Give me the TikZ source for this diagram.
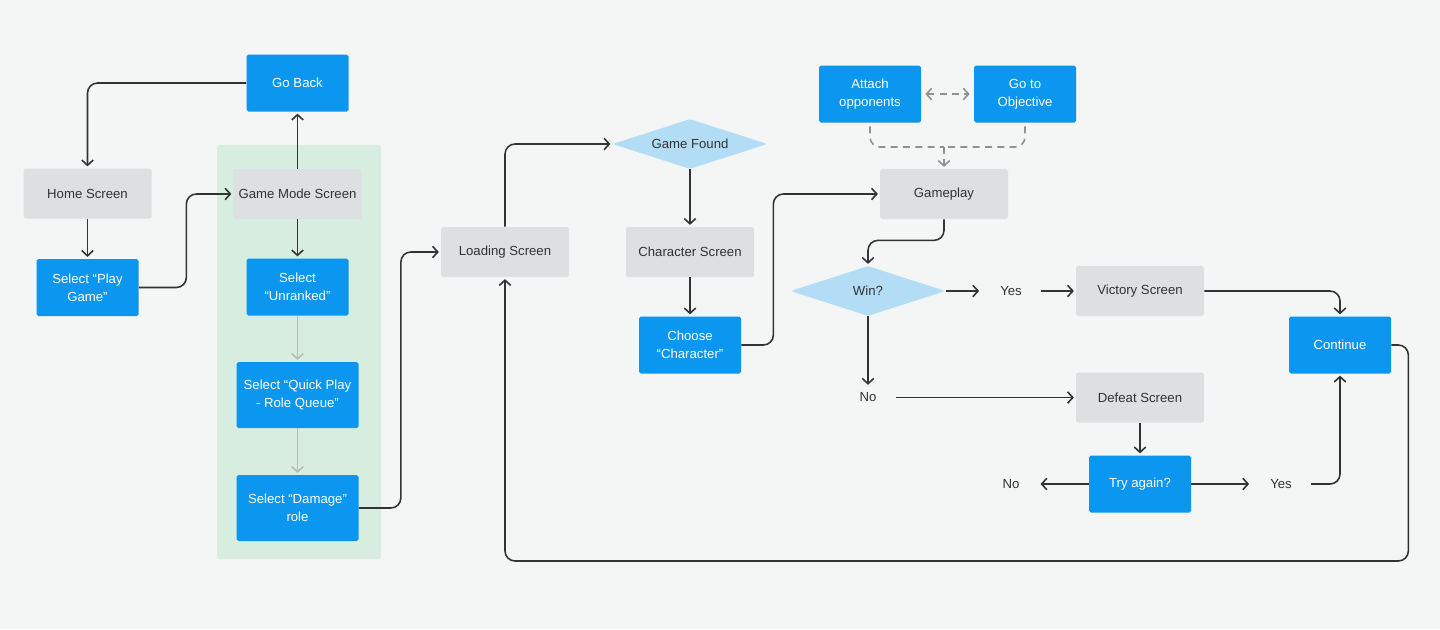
\documentclass[tikz,border=0pt]{standalone}
\usepackage{fontspec}
\setmainfont{Liberation Sans}
\usepackage{xcolor}
\usetikzlibrary{arrows.meta,positioning,calc,shapes.geometric}
\definecolor{bgc}{HTML}{F3F6F5}
\definecolor{grp}{HTML}{D6EDDF}
\definecolor{btnblue}{HTML}{0B96F0}
\definecolor{scrgray}{HTML}{DDE0E0}
\definecolor{decblue}{HTML}{B3DDF5}
\definecolor{ink}{HTML}{333333}
\definecolor{faintgray}{HTML}{B6BBB9}
\definecolor{dashgray}{HTML}{8E9392}

\begin{document}
\begin{tikzpicture}[
  every node/.style={font=\fontsize{7.5pt}{10.2pt}\selectfont,align=center},
  scr/.style={fill=scrgray,text=ink,rounded corners=1pt,minimum width=2.56cm,minimum height=1cm,inner sep=0pt},
  btn/.style={fill=btnblue,text=white,rounded corners=1pt,minimum width=2.04cm,minimum height=1.14cm,inner sep=0pt},
  bigbtn/.style={btn,minimum width=2.44cm,minimum height=1.32cm},
  dec/.style={diamond,fill=decblue,text=ink,aspect=3.1,minimum width=3.1cm,minimum height=1cm,inner sep=0pt,rounded corners=1.5pt},
  lbl/.style={text=ink,inner xsep=0.38cm,inner ysep=0.12cm},
  arr/.style={draw=ink,line width=0.9pt,rounded corners=0.2cm,shorten >=1pt,-{Straight Barb[length=3pt,width=6.5pt]}},
  faint/.style={arr,draw=faintgray},
  dsh/.style={draw=dashgray,line width=0.9pt,dash pattern=on 4pt off 3pt,rounded corners=0.2cm}]
 \useasboundingbox (0,0) rectangle (28.8,-12.58);
 \fill[bgc] (0,0) rectangle (28.8,-12.58);
 % queue selection area
 \fill[grp,rounded corners=1pt] (4.34,-2.90) rectangle (7.62,-11.18);
 \node[btn] (goback) at (5.95,-1.66) {Go Back};
 \node[scr] (home) at (1.75,-3.87) {Home Screen};
 \node[btn] (play) at (1.75,-5.75) {Select “Play\\Game”};
 \node[scr] (mode) at (5.95,-3.88) {Game Mode Screen};
 \node[btn] (unranked) at (5.95,-5.74) {Select\\“Unranked”};
 \node[bigbtn] (quick) at (5.95,-7.90) {Select “Quick Play\\- Role Queue”};
 \node[bigbtn] (damage) at (5.95,-10.16) {Select “Damage”\\role};
 \node[scr] (loading) at (10.10,-5.04) {Loading Screen};
 \node[dec] (found) at (13.80,-2.88) {Game Found};
 \node[scr] (charscr) at (13.80,-5.04) {Character Screen};
 \node[btn] (choose) at (13.80,-6.90) {Choose\\“Character”};
 \node[btn] (attach) at (17.40,-1.88) {Attach\\opponents};
 \node[btn] (objective) at (20.50,-1.88) {Go to\\Objective};
 \node[scr] (gameplay) at (18.88,-3.88) {Gameplay};
 \node[dec] (win) at (17.36,-5.82) {Win?};
 \node[lbl] (yes1) at (20.22,-5.82) {Yes};
 \node[scr] (victory) at (22.80,-5.82) {Victory Screen};
 \node[btn] (cont) at (26.80,-6.90) {Continue};
 \node[lbl] (no1) at (17.36,-7.95) {No};
 \node[scr] (defeat) at (22.80,-7.95) {Defeat Screen};
 \node[btn] (retry) at (22.80,-9.68) {Try again?};
 \node[lbl] (no2) at (20.22,-9.68) {No};
 \node[lbl] (yes2) at (25.62,-9.68) {Yes};
 \coordinate (mrg) at (18.88,-2.94);
 \coordinate (bot) at (0,-11.22);
 \foreach \a/\b in {home/play,mode/unranked,found/charscr,charscr/choose,defeat/retry,win/no1}
   \draw[arr] (\a.south)--(\b.north);
 \foreach \a/\b in {unranked/quick,quick/damage}
   \draw[faint] (\a.south)--(\b.north);
 \foreach \a/\b in {win/yes1,yes1/victory,no1/defeat,retry/yes2}
   \draw[arr] (\a.east)--(\b.west);
 \draw[arr] (retry.west)--(no2.east);
 \draw[arr] (mode.north)--(goback.south);
 \draw[arr] (goback.west) -| (home.north);
 \draw[arr] (play.east) -- ++(0.95,0) |- (mode.west);
 \draw[arr] (damage.east) -- ++(0.84,0) |- (loading.west);
 \draw[arr] (loading.north) |- (found.west);
 \draw[arr] (choose.east) -- ++(0.64,0) |- (gameplay.west);
 \draw[arr] (gameplay.south) -- ++(0,-0.42) -| (win.north);
 \draw[arr] (victory.east) -| (cont.north);
 \draw[arr] (yes2.east) -| (cont.south);
 \draw[arr] (cont.east) -- ++(0.34,0) |- (loading.south |- bot) -- (loading.south);
 % optional goals during play
 \draw[dsh,{Straight Barb[length=3pt,width=6.5pt]}-{Straight Barb[length=3pt,width=6.5pt]},shorten <=0.08cm,shorten >=0.08cm] (attach) -- (objective);
 \draw[dsh,shorten <=2pt] (attach.south) |- (mrg);
 \draw[dsh,shorten <=2pt] (objective.south) |- (mrg);
 \draw[dsh,shorten >=1pt,-{Straight Barb[length=3pt,width=6.5pt]}] (mrg) -- (gameplay.north);
\end{tikzpicture}
\end{document}
